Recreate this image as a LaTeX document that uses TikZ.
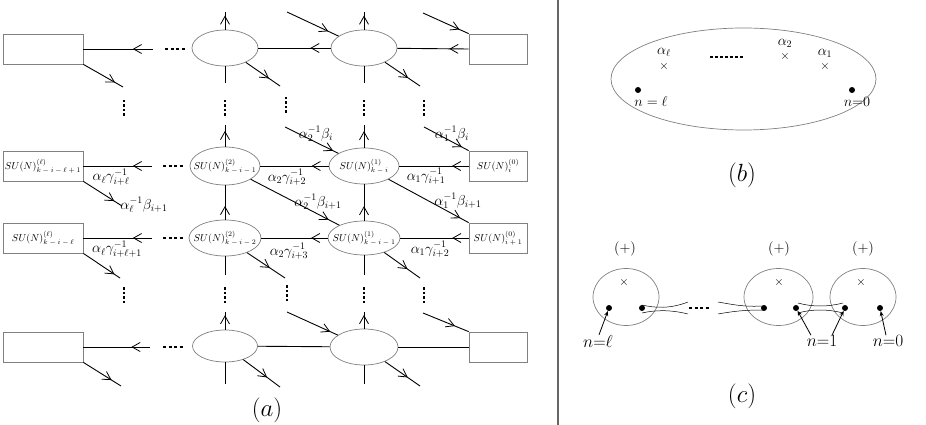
\documentclass[tikz,border=0pt]{standalone}
\usetikzlibrary{arrows.meta,shapes.geometric,decorations.markings}
\newcommand{\subgap}{\kern1.8pt}
\tikzset{
    site/.style={ellipse, draw=gray, line width=0.7pt, inner sep=0pt, minimum width=70pt, minimum height=36pt},
    flav/.style={rectangle, draw=gray, line width=0.8pt, inner sep=0pt, minimum height=30pt},
    sutext/.style={font=\normalsize, inner sep=0pt},
    leg/.style={line width=0.9pt},
    midarr/.style={leg, postaction={decorate}, decoration={markings, mark=at position #1 with {\arrow{Straight Barb[length=8pt,width=9pt,line width=0.8pt]}}}},
    lbl/.style={font=\Large, inner sep=0pt},
    capt/.style={font=\fontsize{24.88}{28}\selectfont, inner sep=0pt},
    hdots/.style={line width=1.6pt, dash pattern=on 3pt off 2.5pt},
    vdots/.style={line width=1.6pt, dash pattern=on 2.5pt off 2pt},
    cross/.style={font=\large, inner sep=0pt},
    puncture/.style={circle, fill, inner sep=0pt, minimum size=6pt},
    blob/.style={ellipse, draw=gray, line width=0.7pt, inner sep=0pt},
    ptr/.style={-{Stealth[length=5pt,width=4pt]}, line width=0.8pt}
}
\begin{document}
\begin{tikzpicture}[x=1pt, y=-1pt]
    \useasboundingbox (0,0) rectangle (926,425);

    % (a) top row
    \node[flav, minimum width=80pt] (L0) at (43,49) {};
    \node[site, minimum width=66pt] (E20) at (225,48) {};
    \node[site, minimum width=66pt] (E10) at (364,48) {};
    \node[flav, minimum width=58pt] (R0) at (498,49) {};
    \coordinate (l0) at (153,49);
    \coordinate (l0d) at (123,87);
    \coordinate (u20) at (225,12);
    \coordinate (d20) at (225,83);
    \coordinate (o20) at (280,86);
    \coordinate (i10) at (287,12);
    \coordinate (u10) at (364,12);
    \coordinate (d10) at (364,83);
    \coordinate (o10) at (420,86);
    \coordinate (iR0) at (423,13);
    \draw[midarr=0.29] (l0) -- (L0.east);
    \draw[midarr=0.8] (L0.south east) -- (l0d);
    \draw[midarr=0.28] (E10) -- (E20);
    \draw[midarr=0.27] (R0.west) -- (E10);
    \draw[midarr=0.8] (E20) -- (u20);
    \draw[leg] (E20) -- (d20);
    \draw[midarr=0.68] (E20) -- (o20);
    \draw[midarr=0.8] (i10) -- (E10);
    \draw[midarr=0.8] (E10) -- (u10);
    \draw[leg] (E10) -- (d10);
    \draw[midarr=0.66] (E10) -- (o10);
    \draw[midarr=0.8] (iR0) -- (R0.north west);

    % (a) row i
    \node[flav, minimum width=80pt, label={[sutext]center:$SU(N)^{(\ell)}_{k\subgap-\subgap i\subgap-\subgap\ell\subgap+\subgap 1}$}] (L1) at (43,166) {};
    \node[site, minimum height=38pt, label={[sutext]center:$SU(N)^{(2)}_{k\subgap-\subgap i\subgap-\subgap 1}$}] (E21) at (225,166) {};
    \node[site, label={[sutext]center:$SU(N)^{(1)}_{k\subgap-\subgap i}$}] (E11) at (364,166) {};
    \node[flav, minimum width=58pt, label={[sutext]center:$SU(N)^{(0)}_{i}$}] (R1) at (498,166) {};
    \coordinate (l1) at (152,166);
    \coordinate (l1d) at (122,206);
    \coordinate (u21) at (225,125);
    \coordinate (i11) at (285,127);
    \coordinate (u11) at (364,125);
    \coordinate (iR1) at (424,127);
    \draw[midarr=0.28] (l1) -- (L1.east);
    \draw[midarr=0.8] (L1.south east) -- (l1d);
    \draw[midarr=0.25] (E11) -- (E21);
    \draw[midarr=0.24] (R1.west) -- (E11);
    \draw[midarr=0.73] (E21) -- (u21);
    \draw[midarr=0.73] (E11) -- (u11);
    \draw[midarr=0.9] (i11) -- (E11);
    \draw[midarr=0.85] (iR1) -- (R1.north west);
    \node[lbl] (g1l) at (111,177) {$\alpha_\ell\gamma^{-1}_{i+\ell}$};
    \node[lbl] (b1l) at (144,205) {$\alpha_\ell^{-1}\beta_{i+1}$};
    \node[lbl] (g12) at (287,177) {$\alpha_2\gamma^{-1}_{i+2}$};
    \node[lbl] (g11) at (426,176) {$\alpha_1\gamma^{-1}_{i+1}$};
    \node[lbl] (b02) at (316,134) {$\alpha_2^{-1}\beta_i$};
    \node[lbl] (b01) at (452,134) {$\alpha_1^{-1}\beta_i$};

    % (a) row i+1
    \node[flav, minimum width=80pt, label={[sutext]center:$SU(N)^{(\ell)}_{k\subgap-\subgap i\subgap-\subgap\ell}$}] (L2) at (43,238) {};
    \node[site, minimum width=72pt, label={[sutext]center:$SU(N)^{(2)}_{k\subgap-\subgap i\subgap-\subgap 2}$}] (E22) at (225,238) {};
    \node[site, minimum width=72pt, minimum height=34pt, label={[sutext]center:$SU(N)^{(1)}_{k\subgap-\subgap i\subgap-\subgap 1}$}] (E12) at (364,238) {};
    \node[flav, minimum width=58pt, label={[sutext]center:$SU(N)^{(0)}_{i\subgap+\subgap 1}$}] (R2) at (498,238) {};
    \coordinate (l2) at (152,238);
    \coordinate (l2d) at (120,278);
    \coordinate (d22) at (225,275);
    \coordinate (o22) at (285,278);
    \coordinate (d12) at (364,275);
    \coordinate (o12) at (420,278);
    \draw[midarr=0.28] (l2) -- (L2.east);
    \draw[midarr=0.85] (L2.south east) -- (l2d);
    \draw[midarr=0.25] (E12) -- (E22);
    \draw[midarr=0.24] (R2.west) -- (E12);
    \draw[midarr=0.4] (E22) -- (E21);
    \draw[midarr=0.4] (E12) -- (E11);
    \draw[midarr=0.88] (E21) -- (E12);
    \draw[midarr=0.9] (E11) -- (R2.north west);
    \draw[leg] (E22) -- (d22);
    \draw[midarr=0.6] (E22) -- (o22);
    \draw[leg] (E12) -- (d12);
    \draw[midarr=0.65] (E12) -- (o12);
    \node[lbl] (g2l) at (117,249) {$\alpha_\ell\gamma^{-1}_{i+\ell+1}$};
    \node[lbl] (g22) at (289,251) {$\alpha_2\gamma^{-1}_{i+3}$};
    \node[lbl] (g21) at (430,249) {$\alpha_1\gamma^{-1}_{i+2}$};
    \node[lbl] (b12) at (318,202) {$\alpha_2^{-1}\beta_{i+1}$};
    \node[lbl] (b11) at (458,201) {$\alpha_1^{-1}\beta_{i+1}$};

    % (a) bottom row
    \node[flav, minimum width=80pt] (L3) at (43,347) {};
    \node[site, minimum width=65pt, minimum height=32pt] (E23) at (225,346) {};
    \node[site, minimum width=68pt] (E13) at (364,347) {};
    \node[flav, minimum width=58pt] (R3) at (498,347) {};
    \coordinate (l3) at (150,347);
    \coordinate (l3d) at (121,386);
    \coordinate (u23) at (225,312);
    \coordinate (d23) at (225,384);
    \coordinate (o23) at (280,387);
    \coordinate (i13) at (287,312);
    \coordinate (u13) at (364,312);
    \coordinate (d13) at (364,384);
    \coordinate (o13) at (420,386);
    \coordinate (iR3) at (423,313);
    \draw[midarr=0.28] (l3) -- (L3.east);
    \draw[midarr=0.75] (L3.south east) -- (l3d);
    \draw[leg] (E13) -- (E23);
    \draw[leg] (R3.west) -- (E13);
    \draw[midarr=0.82] (E23) -- (u23);
    \draw[leg] (E23) -- (d23);
    \draw[midarr=0.65] (E23) -- (o23);
    \draw[midarr=0.85] (i13) -- (E13);
    \draw[midarr=0.82] (E13) -- (u13);
    \draw[leg] (E13) -- (d13);
    \draw[midarr=0.65] (E13) -- (o13);
    \draw[midarr=0.7] (iR3) -- (R3.north west);

    % (a) dots
    \draw[hdots] (165,49) -- (185,49);
    \draw[hdots] (163,166) -- (183,166);
    \draw[hdots] (163,238) -- (183,238);
    \draw[hdots] (163,347) -- (184,347);
    \draw[vdots] (124,100) -- (124,116);
    \draw[vdots] (225,100) -- (225,116);
    \draw[vdots] (286,97) -- (286,113);
    \draw[vdots] (364,100) -- (364,116);
    \draw[vdots] (424,100) -- (424,116);
    \draw[vdots] (124,287) -- (124,303);
    \draw[vdots] (225,287) -- (225,303);
    \draw[vdots] (287,285) -- (287,301);
    \draw[vdots] (364,287) -- (364,303);
    \draw[vdots] (424,287) -- (424,303);
    \node[capt] (capa) at (267,410) {$(a)$};

    % separator
    \draw[gray!80!black, line width=1.3pt] (558,0) -- (558,425);

    % (b)
    \node[blob, minimum width=265pt, minimum height=102pt] (disk) at (743.5,79) {};
    \node[cross] (xl) at (664,67) {$\times$};
    \node[cross] (x2) at (785,57) {$\times$};
    \node[cross] (x1) at (825,67) {$\times$};
    \node[lbl] (al) at (664,52) {$\alpha_\ell$};
    \node[lbl] (a2) at (785,43) {$\alpha_2$};
    \node[lbl] (a1) at (825,53) {$\alpha_1$};
    \draw[line width=1.2pt, dash pattern=on 3pt off 2pt] (710,57) -- (743,57);
    \node[puncture] (pl) at (638,90) {};
    \node[puncture] (p0) at (852,90) {};
    \node[lbl] (nl) at (651,102) {$n = \ell$};
    \node[lbl] (n0) at (857,102) {$n{=}0$};
    \node[capt] (capb) at (742,175) {$(b)$};

    % (c)
    \node[blob, minimum width=66pt, minimum height=57pt] (C1) at (626,297) {};
    \node[blob, minimum width=69pt, minimum height=57pt] (C2) at (778.5,297) {};
    \node[blob, minimum width=66pt, minimum height=57pt] (C3) at (863,297) {};
    \node[lbl] (s1) at (625,249) {$(+)$};
    \node[lbl] (s2) at (779,249) {$(+)$};
    \node[lbl] (s3) at (863,249) {$(+)$};
    \node[cross] (c1) at (624,282) {$\times$};
    \node[cross] (c2) at (779,282) {$\times$};
    \node[cross] (c3) at (861,282) {$\times$};
    \node[puncture] (q1) at (609,308) {};
    \node[puncture] (q2) at (642,308) {};
    \node[puncture] (q3) at (764,308) {};
    \node[puncture] (q4) at (796,308) {};
    \node[puncture] (q5) at (845,308) {};
    \node[puncture] (q6) at (880,308) {};
    % tubes
    \draw[line width=0.5pt] (642,305) .. controls (655,308) and (670,309) .. (688,302);
    \draw[line width=0.5pt] (642,313) .. controls (655,310) and (670,309.5) .. (688,314);
    \draw[line width=0.5pt] (718,302) .. controls (735,305) and (745,307) .. (763,306);
    \draw[line width=0.5pt] (718,314) .. controls (735,311) and (745,310) .. (763,310);
    \draw[line width=0.5pt] (798,303) .. controls (812,307) and (828,307) .. (843,303);
    \draw[line width=0.5pt] (798,313) .. controls (812,309) and (828,309) .. (843,313);
    \draw[hdots] (689,308) -- (709,308);
    \node[lbl, font=\LARGE] (ml) at (598,341) {$n{=}\ell$};
    \node[lbl, font=\LARGE] (m1) at (822,341) {$n{=}1$};
    \node[lbl, font=\LARGE] (m0) at (888,341) {$n{=}0$};
    \draw[ptr] ([xshift=1pt]ml.north) -- (q1);
    \draw[ptr] ([xshift=-11pt]m1.north) -- (q4);
    \draw[ptr] ([xshift=10pt]m1.north) -- (q5);
    \draw[ptr] ([xshift=-2pt]m0.north) -- (q6);
    \node[capt] (capc) at (742,396) {$(c)$};
\end{tikzpicture}
\end{document}
